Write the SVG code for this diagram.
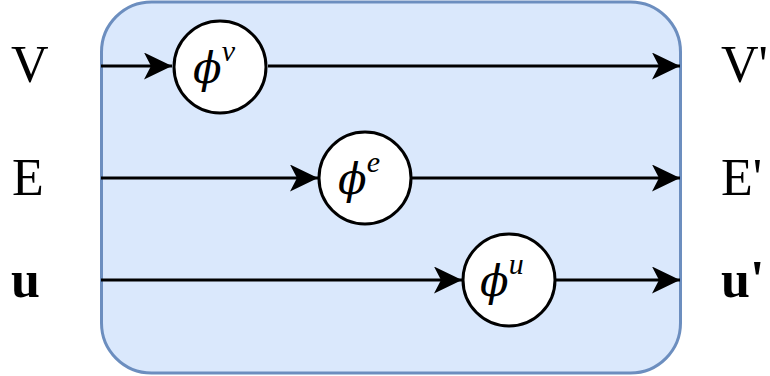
<svg xmlns="http://www.w3.org/2000/svg" width="770" height="376" viewBox="0 0 770 376">
<style>
.lbl{font-family:"Liberation Serif","Times New Roman",serif;font-size:52px;fill:#000}
.b{font-weight:bold}
.phi{font-family:"DejaVu Serif","Liberation Serif",serif;font-style:italic;font-size:42px;fill:#000}
.sup{font-family:"Liberation Serif","DejaVu Serif",serif;font-size:30px}
.node{fill:#fff;stroke:#000;stroke-width:3}
.edge{stroke:#000;stroke-width:3;fill:none}
</style>
<defs>
<marker id="ah" viewBox="0 0 28 27" refX="28" refY="13.5" markerWidth="28" markerHeight="27" markerUnits="userSpaceOnUse" orient="auto">
<path d="M0,0 L28,13.5 L0,27 L7,13.5 Z" fill="#000"/>
</marker>
</defs>
<g id="container">
<rect x="101.5" y="2" width="579" height="371" rx="50" ry="50" fill="#dae8fc" stroke="#6c8ebf" stroke-width="3"/>
</g>
<g id="labels">
<text class="lbl" x="11" y="82">V</text>
<text class="lbl" x="12" y="195">E</text>
<text class="lbl b" x="11" y="297">u</text>
<text class="lbl" x="721" y="82">V'</text>
<text class="lbl" x="721" y="195">E'</text>
<text class="lbl b" x="721" y="297">u'</text>
</g>
<g id="connectors">
<line class="edge" x1="101" y1="66" x2="172" y2="66" marker-end="url(#ah)"/>
<line class="edge" x1="268" y1="66" x2="680" y2="66" marker-end="url(#ah)"/>
<line class="edge" x1="101" y1="178" x2="318" y2="178" marker-end="url(#ah)"/>
<line class="edge" x1="412" y1="178" x2="680" y2="178" marker-end="url(#ah)"/>
<line class="edge" x1="101" y1="280" x2="462" y2="280" marker-end="url(#ah)"/>
<line class="edge" x1="556" y1="280" x2="680" y2="280" marker-end="url(#ah)"/>
</g>
<g id="phi-v">
<circle class="node" cx="220" cy="67" r="46"/>
<text class="phi" x="193" y="83">ϕ<tspan class="sup" dy="-22">v</tspan></text>
</g>
<g id="phi-e">
<circle class="node" cx="365" cy="178" r="46"/>
<text class="phi" x="338" y="194">ϕ<tspan class="sup" dy="-22">e</tspan></text>
</g>
<g id="phi-u">
<circle class="node" cx="509" cy="280" r="46"/>
<text class="phi" x="480" y="296">ϕ<tspan class="sup" dy="-22">u</tspan></text>
</g>
</svg>
